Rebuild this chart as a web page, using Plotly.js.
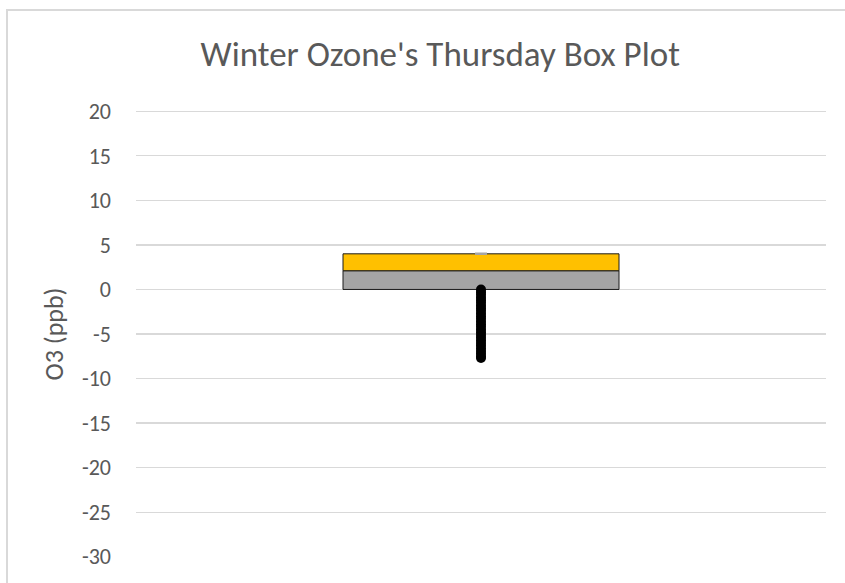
<!DOCTYPE html>
<html>
<head>
<meta charset="utf-8">
<script src="https://cdn.plot.ly/plotly-3.0.1.min.js"></script>
<style>
  html, body { margin: 0; padding: 0; background: #fff; }
  #wrap { position: relative; width: 845px; height: 583px; overflow: hidden; }
  #chart { position: absolute; left: 0; top: 0; width: 845px; height: 583px; }
  #frame { position: absolute; left: 6px; top: 9px; width: 900px; height: 600px;
           border-left: 2px solid #d9d9d9; border-top: 2px solid #d9d9d9; pointer-events: none; }
</style>
</head>
<body>
<div id="wrap">
  <div id="chart"></div>
  <div id="frame"></div>
</div>
<script>
// ---- data ----
const categories = [1];                 // single day: Thursday
const q1 = [0];
const median = [2.1];
const q3 = [4];
const upperWhiskerMax = [4];
const lowerPointValues = [0, -0.3, -0.6, -0.9, -1.2, -1.5, -1.8, -2.1, -2.4, -2.7, -3.0,
                          -3.3, -3.6, -3.9, -4.2, -4.5, -4.8, -5.1, -5.4, -5.7, -6.0,
                          -6.3, -6.6, -6.9, -7.2, -7.5, -7.7];
const yTickVals = [20, 15, 10, 5, 0, -5, -10, -15, -20, -25, -30];
const yTickText = ['20', '15', '10', '5', '0', '-5', '-10', '-15', '-20', '-25', '-30'];
const titleText = "Winter Ozone's Thursday Box Plot";
const yTitleText = "O3 (ppb)";

// ---- traces ----
const lowerBox = {
  type: 'bar', x: categories,
  y: median.map((m, i) => m - q1[i]), base: q1,
  width: 0.4,
  marker: { color: '#a5a5a5', line: { color: '#1a1a1a', width: 1 } },
  hoverinfo: 'skip'
};
const upperBox = {
  type: 'bar', x: categories,
  y: q3.map((v, i) => v - median[i]), base: median,
  width: 0.4,
  marker: { color: '#ffc000', line: { color: '#1a1a1a', width: 1 } },
  error_y: { type: 'data', symmetric: false,
             array: upperWhiskerMax.map((v, i) => v - q3[i]), arrayminus: [0],
             color: '#a5a5a5', thickness: 2.5, width: 6 },
  hoverinfo: 'skip'
};
const lowerPoints = {
  type: 'scatter', mode: 'lines+markers',
  x: lowerPointValues.map(() => categories[0]),
  y: lowerPointValues,
  line: { color: '#000000', width: 8 },
  marker: { color: '#000000', size: 10 },
  hoverinfo: 'skip'
};

// top gridline (Plotly skips gridlines lying on the plot edge)
const edgeGrid = [{
  type: 'line', xref: 'paper', yref: 'y', layer: 'below',
  x0: 0, x1: 1, y0: yTickVals[0], y1: yTickVals[0],
  line: { color: '#d9d9d9', width: 1.3 }
}];

const layout = {
  width: 845, height: 583,
  margin: { l: 136, r: 19, t: 111, b: 26, pad: 0 },
  paper_bgcolor: 'rgba(0,0,0,0)', plot_bgcolor: 'rgba(0,0,0,0)',
  showlegend: false,
  barmode: 'overlay',
  shapes: edgeGrid,
  font: { family: 'Carlito, "Open Sans", sans-serif', color: '#595959' },
  title: {
    text: titleText,
    font: { size: 35, color: '#595959', family: 'Carlito, "Open Sans", sans-serif' },
    xref: 'container', yref: 'container',
    x: 0.521, xanchor: 'center', y: 0.907, yanchor: 'middle'
  },
  xaxis: {
    range: [0.5, 1.5], showticklabels: false, showgrid: false,
    zeroline: false, showline: false, ticks: ''
  },
  yaxis: {
    range: [-30.03, 20.03], tickvals: yTickVals, ticktext: yTickText,
    showgrid: true, gridcolor: '#d9d9d9', gridwidth: 1.3,
    zeroline: false, showline: false, ticks: '',
    ticklabelstandoff: 24,
    tickfont: { size: 22, color: '#595959' },
    title: { text: yTitleText, font: { size: 26, color: '#595959' }, standoff: 10 }
  }
};

Plotly.newPlot('chart', [lowerBox, upperBox, lowerPoints], layout,
  { displayModeBar: false, staticPlot: true });
</script>
</body>
</html>
